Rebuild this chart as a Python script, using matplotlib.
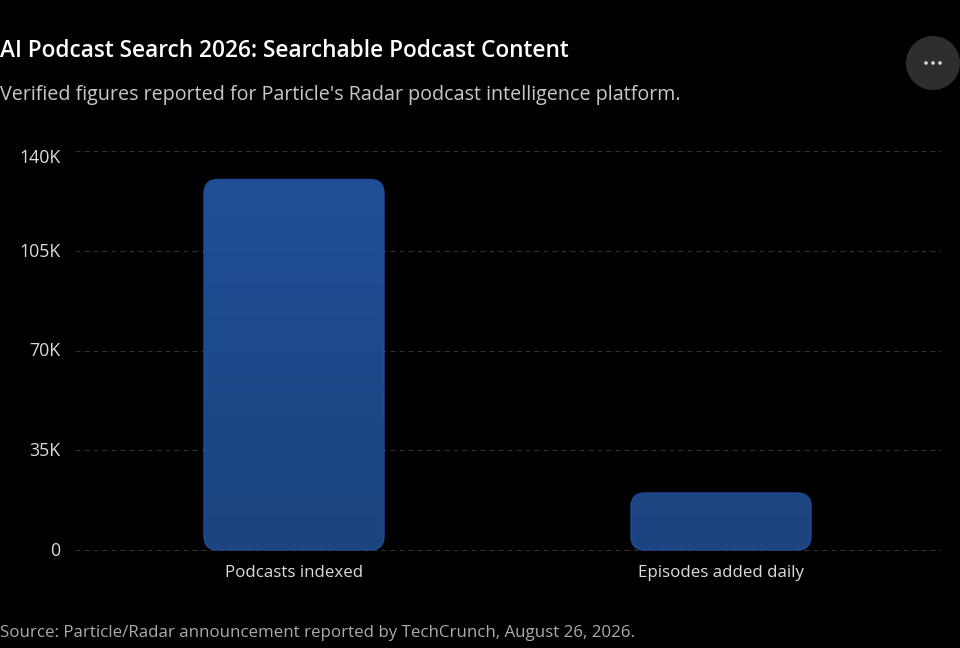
import numpy as np
import matplotlib
matplotlib.use("Agg")
import matplotlib.pyplot as plt
from matplotlib.patches import FancyBboxPatch, Circle

categories = ["Podcasts indexed", "Episodes added daily"]
values = [130000, 20000]
y_ticks = [0, 35000, 70000, 105000, 140000]
y_labels = ["0", "35K", "70K", "105K", "140K"]

title = "AI Podcast Search 2026: Searchable Podcast Content"
subtitle = "Verified figures reported for Particle's Radar podcast intelligence platform."
source = "Source: Particle/Radar announcement reported by TechCrunch, August 26, 2026."

W, H = 960, 648

plt.rcParams['font.family'] = ['Open Sans', 'DejaVu Sans']

fig = plt.figure(figsize=(W / 100, H / 100), dpi=100, facecolor="black")

# axes box in pixels: grid runs 75..941, 0 at 550, 140K at 151
ax = fig.add_axes([75 / W, 1 - 550 / H, 866 / W, 399 / H], facecolor="black")
band = 427
ax.set_xlim(-219 / band, 1 + 220 / band)
ax.set_ylim(0, 140000)

for s in ax.spines.values():
    s.set_visible(False)

ax.set_yticks(y_ticks)
ax.set_yticklabels([])
ax.set_xticks(range(len(categories)))
ax.set_xticklabels(categories, fontsize=12.2, color="#dcdcdc")
ax.tick_params(axis="both", length=0)
ax.tick_params(axis="x", pad=10.5)
ax.yaxis.grid(True, color="#333333", linewidth=0.72, linestyle=(0, (5, 4)), clip_on=False)
ax.set_axisbelow(True)

# y labels sit by hand, the top one is pushed down inside the plot like the original
for val, lab in zip(y_ticks, y_labels):
    dy = -5 if val == max(y_ticks) else -0.7
    ax.annotate(lab, xy=(0, val), xycoords=ax.get_yaxis_transform(), xytext=(-10.5, dy),
                textcoords="offset points", ha="right", va="center",
                fontsize=12.8, color="#dcdcdc", annotation_clip=False)

# rounded bars, corner radius about 14 px
bar_w = 180 / band
per_px_y = 140000 / 399
grad = np.linspace(0, 1, 256).reshape(-1, 1)
cm = matplotlib.colors.LinearSegmentedColormap.from_list("bar", ["#1c4480", "#1f5097"])
for i, v in enumerate(values):
    style = "round,pad=0,rounding_size=%f" % (14 / band)
    aspect = per_px_y * band
    # solid copy underneath so the grid line does not show through at the base
    ax.add_patch(FancyBboxPatch((i - bar_w / 2, 0), bar_w, v, boxstyle=style, mutation_aspect=aspect,
                                facecolor="#1c4480", edgecolor="none", zorder=1.5, clip_on=False))
    box = FancyBboxPatch((i - bar_w / 2, 0), bar_w, v, boxstyle=style, mutation_aspect=aspect,
                         facecolor="none", edgecolor="#1f4c98", linewidth=1, zorder=3,
                         clip_on=False)
    ax.add_patch(box)
    im = ax.imshow(grad[: int(256 * v / 140000) + 1], extent=(i - bar_w / 2, i + bar_w / 2, 0, v),
                   origin="lower", aspect="auto", cmap=cm, vmin=0, vmax=1, zorder=2)
    im.set_clip_path(box)
ax.set_xlim(-219 / band, 1 + 220 / band)
ax.set_ylim(0, 140000)

fig.text(0, 1 - 51 / H, title, fontsize=16.3, fontweight="semibold", color="white", va="center", ha="left")
fig.text(0, 1 - 95 / H, subtitle, fontsize=14.24, color="#c8c8c8", va="center", ha="left")
fig.text(0, 1 - 633 / H, source, fontsize=12.15, color="#ababab", va="center", ha="left")

# menu button top right
px = fig.add_axes([0, 0, 1, 1], facecolor="none")
px.set_xlim(0, W)
px.set_ylim(H, 0)
px.axis("off")
px.add_patch(Circle((933, 63), 27, facecolor="#2e2e2e", edgecolor="none"))
for x in (926, 933, 940):
    px.add_patch(Circle((x, 63), 1.8, facecolor="#d8d8d8", edgecolor="none"))

fig.savefig("out.png", dpi=100, facecolor="black")
